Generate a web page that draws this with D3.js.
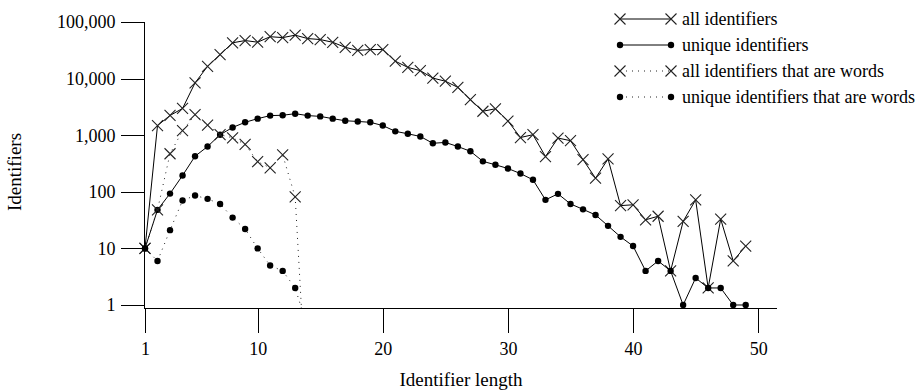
<!DOCTYPE html>
<html>
<head>
<meta charset="utf-8">
<script src="https://cdn.jsdelivr.net/npm/d3@7"></script>
<style>
  body { margin: 0; background: #fff; }
  svg { display: block; font-family: "Liberation Serif", "Times New Roman", serif; }
  .tick-label, .legend-label { font-size: 18px; fill: #000; }
  .axis-title { font-size: 19px; fill: #000; }
  .axis-line { stroke: #000; stroke-width: 1; shape-rendering: crispEdges; }
  .series-line { fill: none; stroke: #000; stroke-width: 1; }
  .series-line.dotted { stroke: #222; stroke-dasharray: 1 5; }
  .cross { fill: none; stroke: #222; stroke-width: 1.1; }
  .dot { fill: #000; }
</style>
</head>
<body>
<div id="wrapper"></div>
<script>

// 1. Data

// identifier length (x)
const lengths = [
  1, 2, 3, 4, 5, 6, 7, 8, 9, 10,
  11, 12, 13, 14, 15, 16, 17, 18, 19, 20,
  21, 22, 23, 24, 25, 26, 27, 28, 29, 30,
  31, 32, 33, 34, 35, 36, 37, 38, 39, 40,
  41, 42, 43, 44, 45, 46, 47, 48, 49,
]
const allIds = [
  10, 1480, 2230, 2970, 8400, 16500, 26500, 42900, 47000, 44000,
  55000, 53000, 58500, 51000, 49000, 43800, 35700, 31500, 32600, 32600,
  20300, 15800, 13800, 10200, 9000, 7000, 4240, 2650, 2930, 1780,
  910, 1020, 420, 890, 800, 370, 174, 380, 57, 59,
  32, 37, 4, 30, 72, 2, 33, 6, 11,
]
const uniqueIds = [
  10, 48, 93, 194, 425, 630, 1020, 1370, 1690, 1960,
  2220, 2250, 2400, 2220, 2150, 1960, 1800, 1750, 1690, 1480,
  1170, 1060, 950, 720, 745, 630, 520, 345, 300, 258,
  210, 163, 72, 92, 61, 49, 39, 25, 16, 11,
  4, 6, 4, 1, 3, 2, 2, 1, 1,
]

// the "words" series stop at length 14 (zero there)
const wordLengths = [1, 2, 3, 4, 5, 6, 7, 8, 9, 10, 11, 12, 13, 14]
const allWords = [10, 48, 470, 1200, 2300, 1500, 1020, 900, 690, 340, 265, 450, 81, 0]
const uniqueWords = [10, 6, 21, 70, 86, 75, 61, 35, 22, 10, 5, 4, 2, 0]

const seriesNames = [
  "all identifiers",
  "unique identifiers",
  "all identifiers that are words",
  "unique identifiers that are words",
]

const xTicks = [1, 10, 20, 30, 40, 50]
const yTicks = [1, 10, 100, 1000, 10000, 100000]

const series = [
  { name: seriesNames[0], xs: lengths, ys: allIds, marker: "cross", dotted: false },
  { name: seriesNames[1], xs: lengths, ys: uniqueIds, marker: "dot", dotted: false },
  { name: seriesNames[2], xs: wordLengths, ys: allWords, marker: "cross", dotted: true },
  { name: seriesNames[3], xs: wordLengths, ys: uniqueWords, marker: "dot", dotted: true },
]

// 2. Dimensions

const dimensions = {
  width: 916,
  height: 391,
  plotLeft: 145,
  plotRight: 777,
  plotTop: 22,
  plotBottom: 308,
  tickLength: 24,
}

// 3. Canvas

const svg = d3.select("#wrapper")
  .append("svg")
    .attr("width", dimensions.width)
    .attr("height", dimensions.height)

// 4. Scales

const xScale = d3.scaleLinear()
  .domain([1, 51.5])
  .range([dimensions.plotLeft, dimensions.plotRight])

const yScale = d3.scaleLog()
  .domain([0.885, 100000])
  .range([dimensions.plotBottom, dimensions.plotTop])

// 5. Axes

const yAxis = d3.axisLeft(yScale)
  .tickValues(yTicks)
  .tickFormat(d3.format(","))
  .tickSize(dimensions.tickLength)
  .tickPadding(5)

const yAxisGroup = svg.append("g")
  .attr("transform", `translate(${dimensions.plotLeft - 0.5}, 0)`)
  .call(yAxis)

const xAxis = d3.axisBottom(xScale)
  .tickValues(xTicks)
  .tickSize(dimensions.tickLength)
  .tickPadding(10)

const xAxisGroup = svg.append("g")
  .attr("transform", `translate(0, ${dimensions.plotBottom + 0.5})`)
  .call(xAxis)

// restyle the d3 axes to look like the plain plot
;[xAxisGroup, yAxisGroup].forEach(g => {
  g.attr("font-family", null).attr("font-size", null)
  g.select(".domain").remove()
  g.selectAll(".tick line").attr("class", "axis-line")
  g.selectAll(".tick text").attr("class", "tick-label")
})
yAxisGroup.selectAll(".tick text").attr("dy", "0.33em")

svg.append("line")
  .attr("class", "axis-line")
  .attr("x1", dimensions.plotLeft - 0.5)
  .attr("x2", dimensions.plotLeft - 0.5)
  .attr("y1", yScale(100000))
  .attr("y2", dimensions.plotBottom + 0.5)

svg.append("line")
  .attr("class", "axis-line")
  .attr("x1", dimensions.plotLeft - 0.5)
  .attr("x2", dimensions.plotRight)
  .attr("y1", dimensions.plotBottom + 0.5)
  .attr("y2", dimensions.plotBottom + 0.5)

svg.append("text")
  .attr("class", "axis-title")
  .attr("x", (dimensions.plotLeft + dimensions.plotRight) / 2)
  .attr("y", 386)
  .attr("text-anchor", "middle")
  .text("Identifier length")

svg.append("text")
  .attr("class", "axis-title")
  .attr("transform", "translate(21, 172) rotate(-90)")
  .attr("text-anchor", "middle")
  .text("Identifiers")

// 6. Draw data

// a zero can't sit on a log scale: run the line down to the bottom edge halfway there
const toPoint = (x, y, i, xs) => y > 0
  ? [xScale(x), yScale(y)]
  : [xScale((x + xs[i - 1]) / 2), dimensions.plotBottom]

const lineGenerator = d3.line()

const crossPath = "M-5.5,-5.5L5.5,5.5M-5.5,5.5L5.5,-5.5"

const drawMarker = (g, type, x, y) => {
  if (type == "cross") {
    g.append("path")
      .attr("class", "cross")
      .attr("d", crossPath)
      .attr("transform", `translate(${x}, ${y})`)
  } else {
    g.append("circle")
      .attr("class", "dot")
      .attr("cx", x)
      .attr("cy", y)
      .attr("r", 3.2)
  }
}

const dataGroup = svg.append("g")

series.forEach(s => {
  const points = s.xs.map((x, i) => toPoint(x, s.ys[i], i, s.xs))
  dataGroup.append("path")
    .attr("class", s.dotted ? "series-line dotted" : "series-line")
    .attr("d", lineGenerator(points))

  const markerGroup = dataGroup.append("g")
  s.xs.forEach((x, i) => {
    if (s.ys[i] > 0) drawMarker(markerGroup, s.marker, xScale(x), yScale(s.ys[i]))
  })
})

// 7. Legend

const legend = {
  x1: 620,
  x2: 671,
  textX: 682,
  top: 19,
  rowHeight: 26,
}

const legendGroup = svg.append("g")

series.forEach((s, i) => {
  const y = legend.top + i * legend.rowHeight
  legendGroup.append("line")
    .attr("class", s.dotted ? "series-line dotted" : "series-line")
    .attr("x1", legend.x1)
    .attr("x2", legend.x2)
    .attr("y1", y)
    .attr("y2", y)
  drawMarker(legendGroup, s.marker, legend.x1, y)
  drawMarker(legendGroup, s.marker, legend.x2, y)
  legendGroup.append("text")
    .attr("class", "legend-label")
    .attr("x", legend.textX)
    .attr("y", y)
    .attr("dy", "0.33em")
    .text(s.name)
})

</script>
</body>
</html>
